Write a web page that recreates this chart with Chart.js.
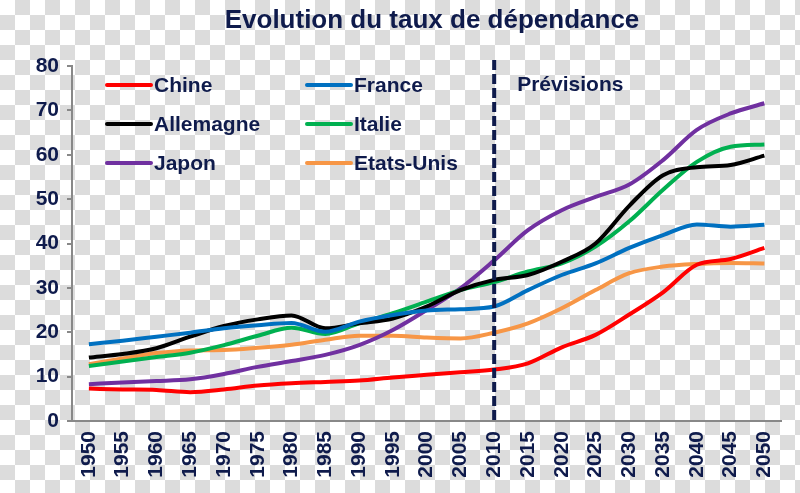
<!DOCTYPE html>
<html>
<head>
<meta charset="utf-8">
<script src="https://cdn.jsdelivr.net/npm/chart.js@4"></script>
<style>
html, body {
	margin: 0;
	padding: 0;
	width: 800px;
	height: 493px;
	overflow: hidden;
	background-color: #fff;
	background-image: conic-gradient(#dcdcdc 25%, #fff 0 50%, #dcdcdc 0 75%, #fff 0);
	background-size: 30px 30px;
}
#wrap { width: 800px; height: 493px; }
</style>
</head>
<body>
<div id="wrap"><canvas id="chartDep"></canvas></div>
<script>
var years = ['1950', '1955', '1960', '1965', '1970', '1975', '1980', '1985', '1990', '1995', '2000',
	'2005', '2010', '2015', '2020', '2025', '2030', '2035', '2040', '2045', '2050'];

var chine     = [7.3, 7.1, 7.0, 6.5, 7.1, 8.0, 8.5, 8.8, 9.1, 9.8, 10.4, 11.0, 11.6, 13.0, 16.6, 19.4, 24.0, 29.0, 35.2, 36.5, 39.0];
var france    = [17.3, 18.1, 19.0, 19.9, 20.9, 21.6, 22.1, 20.1, 22.4, 23.9, 24.9, 25.2, 25.8, 29.5, 32.9, 35.5, 39.0, 41.9, 44.3, 43.8, 44.2];
var allemagne = [14.3, 15.1, 16.4, 19.0, 21.4, 22.9, 23.8, 20.9, 22.0, 23.1, 25.8, 29.5, 31.8, 32.9, 35.9, 40.0, 48.5, 55.4, 57.2, 57.7, 59.8];
var italie    = [12.4, 13.4, 14.4, 15.4, 17.1, 19.2, 21.0, 19.6, 22.0, 24.3, 26.9, 29.5, 31.3, 33.7, 35.5, 39.3, 45.0, 52.1, 58.4, 61.8, 62.3];
var japon     = [8.3, 8.7, 9.0, 9.4, 10.6, 12.2, 13.5, 14.9, 17.1, 20.5, 25.0, 29.9, 36.2, 43.0, 47.5, 50.5, 53.3, 58.8, 65.6, 69.3, 71.6];
var etatsUnis = [12.8, 14.1, 15.3, 15.9, 16.0, 16.5, 17.2, 18.3, 19.2, 19.2, 18.8, 18.6, 19.9, 22.0, 25.4, 29.5, 33.3, 34.8, 35.4, 35.6, 35.5];

var seriesNames = ['Chine', 'France', 'Allemagne', 'Italie', 'Japon', 'Etats-Unis'];
var seriesData = [chine, france, allemagne, italie, japon, etatsUnis];
var seriesColors = ['#ff0000', '#0070c0', '#000000', '#00b050', '#7030a0', '#f79646'];

var forecastStart = '2010';
var forecastLabel = 'Prévisions';
var titleText = 'Evolution du taux de dépendance';

var navy = '#0f1b4c';
var fontFamily = '"Liberation Sans", Arial, sans-serif';

// title, legend, dashed forecast line
var overlay = {
	id: 'overlay',
	afterDatasetsDraw: function(chart) {
		var ctx = chart.ctx;
		var area = chart.chartArea;
		var xs = chart.scales.x;
		ctx.save();

		// dashed vertical line
		var xf = xs.getPixelForValue(years.indexOf(forecastStart));
		ctx.strokeStyle = navy;
		ctx.lineWidth = 4;
		ctx.setLineDash([10, 4]);
		ctx.beginPath();
		ctx.moveTo(xf, area.top - 6);
		ctx.lineTo(xf, area.bottom);
		ctx.stroke();
		ctx.setLineDash([]);

		ctx.fillStyle = navy;
		ctx.font = 'bold 21px ' + fontFamily;
		ctx.textBaseline = 'middle';
		ctx.textAlign = 'left';
		ctx.fillText(forecastLabel, xf + 23, 85);

		// legend, 2 columns
		var colX = [107, 307];
		var rowY = [85, 124, 163];
		chart.data.datasets.forEach(function(ds, i) {
			var x = colX[i % 2];
			var y = rowY[Math.floor(i / 2)];
			ctx.strokeStyle = ds.borderColor;
			ctx.lineWidth = 4;
			ctx.lineCap = 'round';
			ctx.beginPath();
			ctx.moveTo(x, y);
			ctx.lineTo(x + 44, y);
			ctx.stroke();
			ctx.fillStyle = navy;
			ctx.fillText(ds.label, x + 47, y + 1);
		});

		// title
		ctx.font = 'bold 26px ' + fontFamily;
		ctx.textAlign = 'center';
		ctx.textBaseline = 'alphabetic';
		ctx.fillText(titleText, 432, 28);
		ctx.restore();
	}
};

var ctxDep = document.getElementById('chartDep');
var chartDep = new Chart(ctxDep, {
	type: 'line',
	data: {
		labels: years,
		datasets: seriesData.map(function(d, i) {
			return {
				label: seriesNames[i],
				data: d,
				borderColor: seriesColors[i],
				backgroundColor: seriesColors[i],
				borderWidth: 4,
				pointRadius: 0,
				tension: 0.4,
				cubicInterpolationMode: 'monotone',
				fill: false
			};
		})
	},
	options: {
		responsive: true,
		maintainAspectRatio: false,
		animation: false,
		layout: { padding: { top: 66, right: 18, bottom: 0, left: 0 } },
		plugins: {
			legend: { display: false },
			title: { display: false },
			tooltip: { enabled: false }
		},
		scales: {
			x: {
				offset: true,
				grid: { display: false, drawTicks: false },
				border: { display: true, color: '#888', width: 2 },
				ticks: {
					color: navy,
					font: { family: fontFamily, size: 21, weight: 'bold' },
					minRotation: 90,
					maxRotation: 90,
					autoSkip: false,
					padding: 10
				},
				afterFit: function(s) { s.height = 72; }
			},
			y: {
				min: 0,
				max: 80,
				ticks: {
					stepSize: 10,
					color: navy,
					font: { family: fontFamily, size: 21, weight: 'bold' },
					padding: 8
				},
				grid: { drawOnChartArea: false, drawTicks: true, tickLength: 5, color: '#888', lineWidth: 2 },
				border: { display: true, color: '#888', width: 2 },
				afterFit: function(s) { s.width = 72; }
			}
		}
	},
	plugins: [overlay]
});
</script>
</body>
</html>
